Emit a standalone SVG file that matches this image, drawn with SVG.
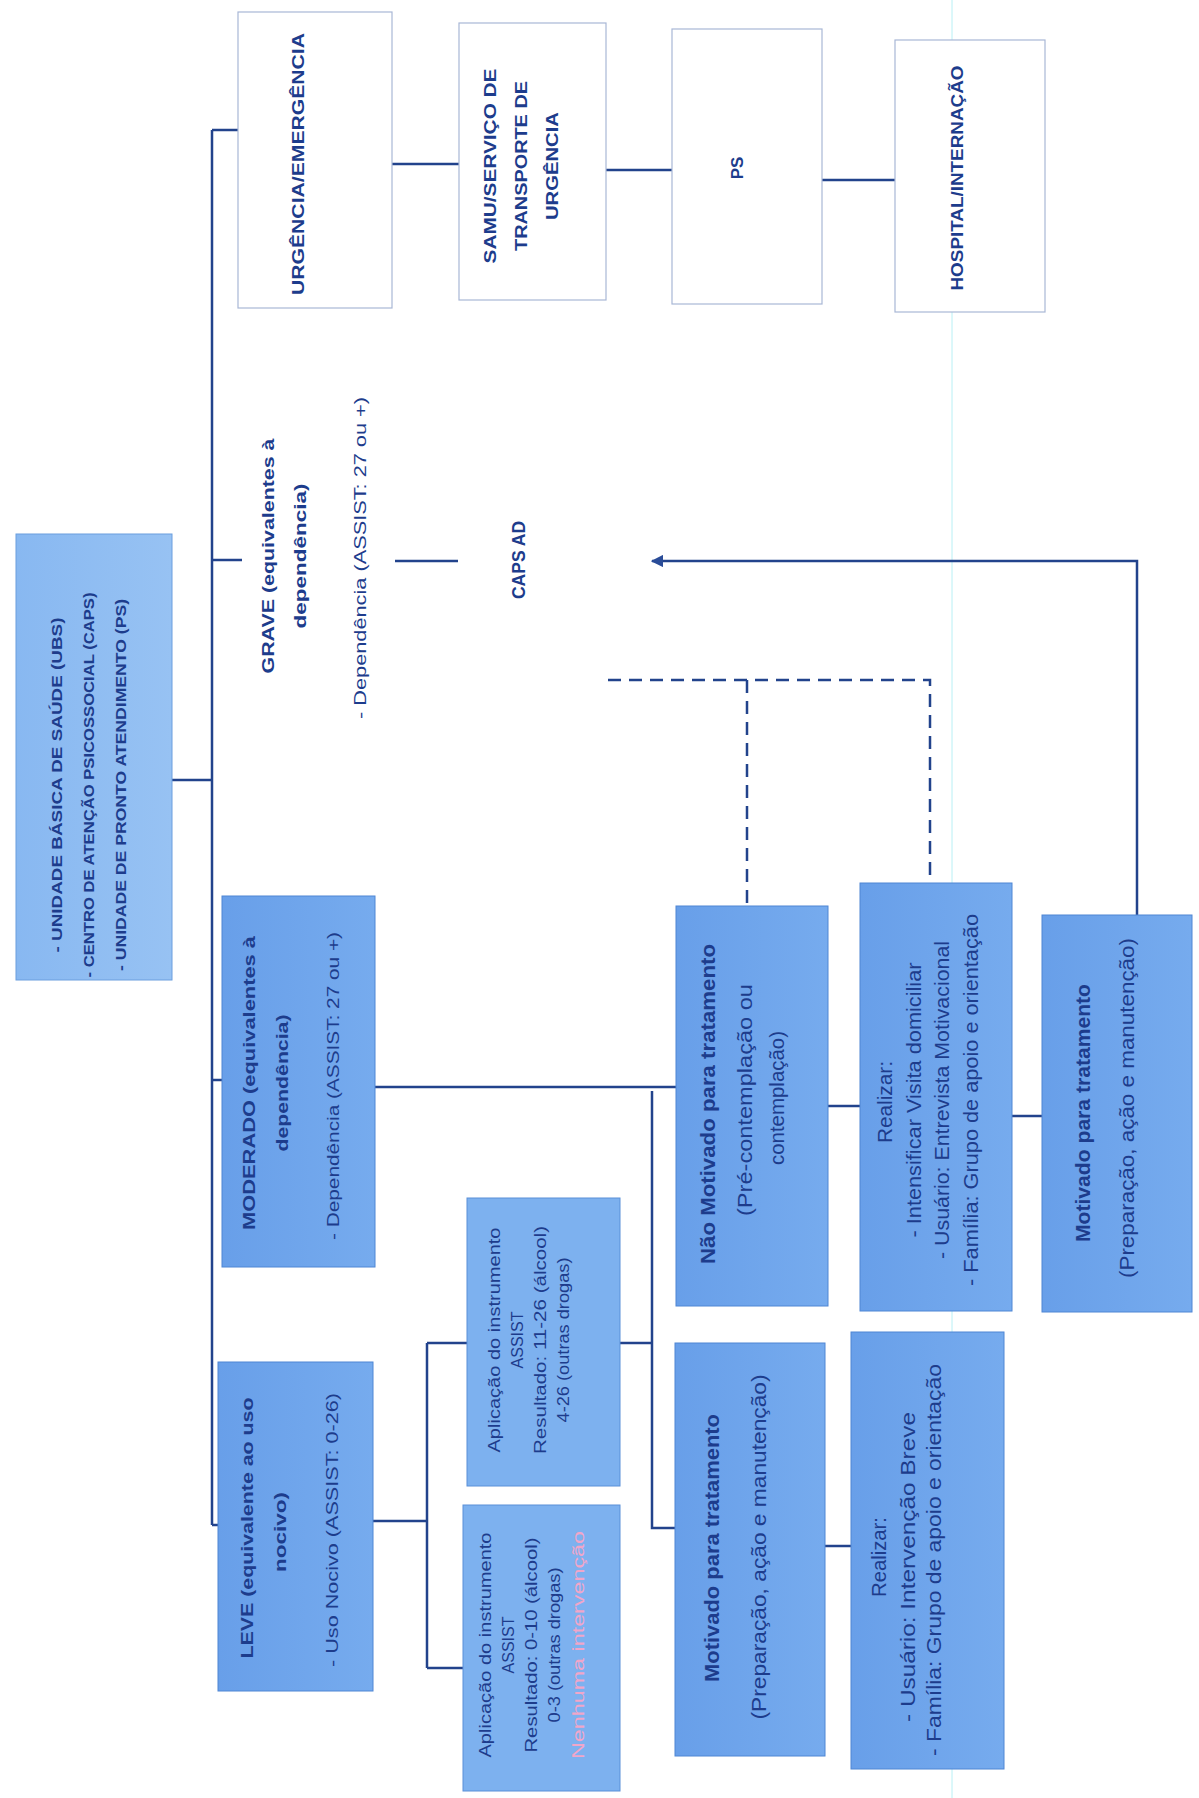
<svg xmlns="http://www.w3.org/2000/svg" width="1199" height="1798" viewBox="0 0 1199 1798">
<defs>
<linearGradient id="gB" x1="0" y1="0" x2="1" y2="0">
<stop offset="0" stop-color="#689fe9"/><stop offset="1" stop-color="#76abee"/>
</linearGradient>
<linearGradient id="gR" x1="0" y1="0" x2="1" y2="0">
<stop offset="0" stop-color="#88b8f1"/><stop offset="1" stop-color="#97c2f3"/>
</linearGradient>
<marker id="arr" viewBox="0 0 10 10" refX="9" refY="5" markerWidth="5" markerHeight="5" orient="auto">
<path d="M0,0 L10,5 L0,10 z" fill="#2a4c98"/>
</marker>
<style>
.n{fill:url(#gB);stroke:#4f86d4;stroke-width:1}
.r{fill:url(#gR);stroke:#6a9ede;stroke-width:1}
.a{fill:#7db1ef;stroke:#5b90d8;stroke-width:1}
.w{fill:#ffffff;stroke:#a8b7d6;stroke-width:1.2}
.t{font-family:"Liberation Sans",Arial,sans-serif;fill:#1d3c8c;text-anchor:middle;dominant-baseline:central}
.b{font-weight:bold}
.c{fill:none;stroke:#22438c;stroke-width:2.5}
.d{stroke-dasharray:13 8}
.pk{fill:#f1a6c9}
</style>
</defs>
<rect width="1199" height="1798" fill="#ffffff"/>
<line x1="952" y1="0" x2="952" y2="1798" stroke="#a8eef4" stroke-width="1" opacity="0.8"/>

<g id="connectors">
<path class="c" d="M172,780 H212"/>
<path class="c" d="M212,130 V1525"/>
<path class="c" d="M212,130 H238"/>
<path class="c" d="M212,560 H242"/>
<path class="c" d="M212,1080 H222"/>
<path class="c" d="M212,1525 H218"/>
<path class="c" d="M392,164 H459"/>
<path class="c" d="M606,170 H672"/>
<path class="c" d="M822,180 H895"/>
<path class="c" d="M395,561 H458"/>
<path class="c" d="M375,1087 H676"/>
<path class="c" d="M373,1521 H427"/>
<path class="c" d="M427,1343 V1668"/>
<path class="c" d="M427,1343 H467"/>
<path class="c" d="M427,1668 H463"/>
<path class="c" d="M620,1343 H652"/>
<path class="c" d="M652,1091 V1528 H675"/>
<path class="c" d="M825,1546 H851"/>
<path class="c" d="M828,1106 H860"/>
<path class="c" d="M1012,1116 H1042"/>
<path class="c" d="M1137,915 V561 H652" marker-end="url(#arr)"/>
<path class="c d" d="M608,680 H930 V883"/>
<path class="c d" d="M747,680 V906"/>
</g>

<g id="root">
<rect class="r" x="16" y="534" width="156" height="446"/>
<text class="t b" font-size="15.5" x="56" y="785" transform="rotate(-90 56 785)" textLength="335" lengthAdjust="spacingAndGlyphs">- UNIDADE BÁSICA DE SAÚDE (UBS)</text>
<text class="t b" font-size="15.5" x="88" y="785" transform="rotate(-90 88 785)" textLength="385" lengthAdjust="spacingAndGlyphs">- CENTRO DE ATENÇÃO PSICOSSOCIAL (CAPS)</text>
<text class="t b" font-size="15.5" x="120" y="785" transform="rotate(-90 120 785)" textLength="372" lengthAdjust="spacingAndGlyphs">- UNIDADE DE PRONTO ATENDIMENTO (PS)</text>
</g>

<g id="urgencia">
<rect class="w" x="238" y="12" width="154" height="296"/>
<text class="t b" font-size="17" x="298" y="164" transform="rotate(-90 298 164)" textLength="262" lengthAdjust="spacingAndGlyphs">URGÊNCIA/EMERGÊNCIA</text>
</g>

<g id="samu">
<rect class="w" x="459" y="23" width="147" height="277"/>
<text class="t b" font-size="16.5" x="490" y="166" transform="rotate(-90 490 166)" textLength="195" lengthAdjust="spacingAndGlyphs">SAMU/SERVIÇO DE</text>
<text class="t b" font-size="16.5" x="521" y="166" transform="rotate(-90 521 166)" textLength="170" lengthAdjust="spacingAndGlyphs">TRANSPORTE DE</text>
<text class="t b" font-size="16.5" x="552" y="166" transform="rotate(-90 552 166)" textLength="108" lengthAdjust="spacingAndGlyphs">URGÊNCIA</text>
</g>

<g id="ps">
<rect class="w" x="672" y="29" width="150" height="275"/>
<text class="t b" font-size="17" x="737" y="168" transform="rotate(-90 737 168)">PS</text>
</g>

<g id="hospital">
<rect class="w" x="895" y="40" width="150" height="272"/>
<text class="t b" font-size="16.5" x="957" y="178" transform="rotate(-90 957 178)" textLength="225" lengthAdjust="spacingAndGlyphs">HOSPITAL/INTERNAÇÃO</text>
</g>

<g id="grave">
<text class="t b" font-size="16.5" x="268" y="556" transform="rotate(-90 268 556)" textLength="235" lengthAdjust="spacingAndGlyphs">GRAVE (equivalentes à</text>
<text class="t b" font-size="16.5" x="300" y="556" transform="rotate(-90 300 556)" textLength="145" lengthAdjust="spacingAndGlyphs">dependência)</text>
<text class="t" font-size="16.5" x="360" y="558" transform="rotate(-90 360 558)" textLength="322" lengthAdjust="spacingAndGlyphs">- Dependência (ASSIST: 27 ou +)</text>
</g>

<g id="caps-ad">
<text class="t b" font-size="17.5" x="519" y="560" transform="rotate(-90 519 560)">CAPS AD</text>
</g>

<g id="moderado">
<rect class="n" x="222" y="896" width="153" height="371"/>
<text class="t b" font-size="16" x="249" y="1083" transform="rotate(-90 249 1083)" textLength="294" lengthAdjust="spacingAndGlyphs">MODERADO (equivalentes à</text>
<text class="t b" font-size="16" x="282" y="1083" transform="rotate(-90 282 1083)" textLength="137" lengthAdjust="spacingAndGlyphs">dependência)</text>
<text class="t" font-size="16" x="333" y="1086" transform="rotate(-90 333 1086)" textLength="308" lengthAdjust="spacingAndGlyphs">- Dependência (ASSIST: 27 ou +)</text>
</g>

<g id="leve">
<rect class="n" x="218" y="1362" width="155" height="329"/>
<text class="t b" font-size="16" x="247" y="1528" transform="rotate(-90 247 1528)" textLength="261" lengthAdjust="spacingAndGlyphs">LEVE (equivalente ao uso</text>
<text class="t b" font-size="16" x="280" y="1532" transform="rotate(-90 280 1532)" textLength="80" lengthAdjust="spacingAndGlyphs">nocivo)</text>
<text class="t" font-size="16" x="332" y="1530" transform="rotate(-90 332 1530)" textLength="274" lengthAdjust="spacingAndGlyphs">- Uso Nocivo (ASSIST: 0-26)</text>
</g>

<g id="assist-11-26">
<rect class="a" x="467" y="1198" width="153" height="288"/>
<text class="t" font-size="16" x="494" y="1340" transform="rotate(-90 494 1340)" textLength="225" lengthAdjust="spacingAndGlyphs">Aplicação do instrumento</text>
<text class="t" font-size="16" x="517" y="1340" transform="rotate(-90 517 1340)">ASSIST</text>
<text class="t" font-size="16" x="540" y="1340" transform="rotate(-90 540 1340)" textLength="228" lengthAdjust="spacingAndGlyphs">Resultado: 11-26 (álcool)</text>
<text class="t" font-size="16" x="563" y="1340" transform="rotate(-90 563 1340)" textLength="165" lengthAdjust="spacingAndGlyphs">4-26 (outras drogas)</text>
</g>

<g id="assist-0-10">
<rect class="a" x="463" y="1505" width="157" height="286"/>
<text class="t" font-size="16" x="485" y="1645" transform="rotate(-90 485 1645)" textLength="225" lengthAdjust="spacingAndGlyphs">Aplicação do instrumento</text>
<text class="t" font-size="16" x="508" y="1645" transform="rotate(-90 508 1645)">ASSIST</text>
<text class="t" font-size="16" x="531" y="1645" transform="rotate(-90 531 1645)" textLength="215" lengthAdjust="spacingAndGlyphs">Resultado: 0-10 (álcool)</text>
<text class="t" font-size="16" x="554" y="1645" transform="rotate(-90 554 1645)" textLength="155" lengthAdjust="spacingAndGlyphs">0-3 (outras drogas)</text>
<text class="t pk" font-size="16" x="578" y="1645" transform="rotate(-90 578 1645)" textLength="228" lengthAdjust="spacingAndGlyphs">Nenhuma intervenção</text>
</g>

<g id="nao-motivado">
<rect class="n" x="676" y="906" width="152" height="400"/>
<text class="t b" font-size="20" x="708" y="1104" transform="rotate(-90 708 1104)" textLength="320" lengthAdjust="spacingAndGlyphs">Não Motivado para tratamento</text>
<text class="t" font-size="20" x="745" y="1100" transform="rotate(-90 745 1100)" textLength="232" lengthAdjust="spacingAndGlyphs">(Pré-contemplação ou</text>
<text class="t" font-size="20" x="777" y="1098" transform="rotate(-90 777 1098)" textLength="134" lengthAdjust="spacingAndGlyphs">contemplação)</text>
</g>

<g id="realizar-visita">
<rect class="n" x="860" y="883" width="152" height="428"/>
<text class="t" font-size="20" x="885" y="1102" transform="rotate(-90 885 1102)" textLength="82" lengthAdjust="spacingAndGlyphs">Realizar:</text>
<text class="t" font-size="20" x="914" y="1100" transform="rotate(-90 914 1100)" textLength="275" lengthAdjust="spacingAndGlyphs">- Intensificar Visita domiciliar</text>
<text class="t" font-size="20" x="942" y="1100" transform="rotate(-90 942 1100)" textLength="318" lengthAdjust="spacingAndGlyphs">- Usuário: Entrevista Motivacional</text>
<text class="t" font-size="20" x="971" y="1100" transform="rotate(-90 971 1100)" textLength="372" lengthAdjust="spacingAndGlyphs">- Família: Grupo de apoio e orientação</text>
</g>

<g id="motivado-right">
<rect class="n" x="1042" y="915" width="150" height="397"/>
<text class="t b" font-size="20" x="1083" y="1113" transform="rotate(-90 1083 1113)" textLength="258" lengthAdjust="spacingAndGlyphs">Motivado para tratamento</text>
<text class="t" font-size="20" x="1127" y="1108" transform="rotate(-90 1127 1108)" textLength="340" lengthAdjust="spacingAndGlyphs">(Preparação, ação e manutenção)</text>
</g>

<g id="motivado-left">
<rect class="n" x="675" y="1343" width="150" height="413"/>
<text class="t b" font-size="20" x="712" y="1548" transform="rotate(-90 712 1548)" textLength="268" lengthAdjust="spacingAndGlyphs">Motivado para tratamento</text>
<text class="t" font-size="20" x="759" y="1547" transform="rotate(-90 759 1547)" textLength="345" lengthAdjust="spacingAndGlyphs">(Preparação, ação e manutenção)</text>
</g>

<g id="realizar-breve">
<rect class="n" x="851" y="1332" width="153" height="437"/>
<text class="t" font-size="20" x="879" y="1557" transform="rotate(-90 879 1557)" textLength="80" lengthAdjust="spacingAndGlyphs">Realizar:</text>
<text class="t" font-size="20" x="908" y="1567" transform="rotate(-90 908 1567)" textLength="310" lengthAdjust="spacingAndGlyphs">- Usuário: Intervenção Breve</text>
<text class="t" font-size="20" x="934" y="1560" transform="rotate(-90 934 1560)" textLength="392" lengthAdjust="spacingAndGlyphs">- Família: Grupo de apoio e orientação</text>
</g>
</svg>
